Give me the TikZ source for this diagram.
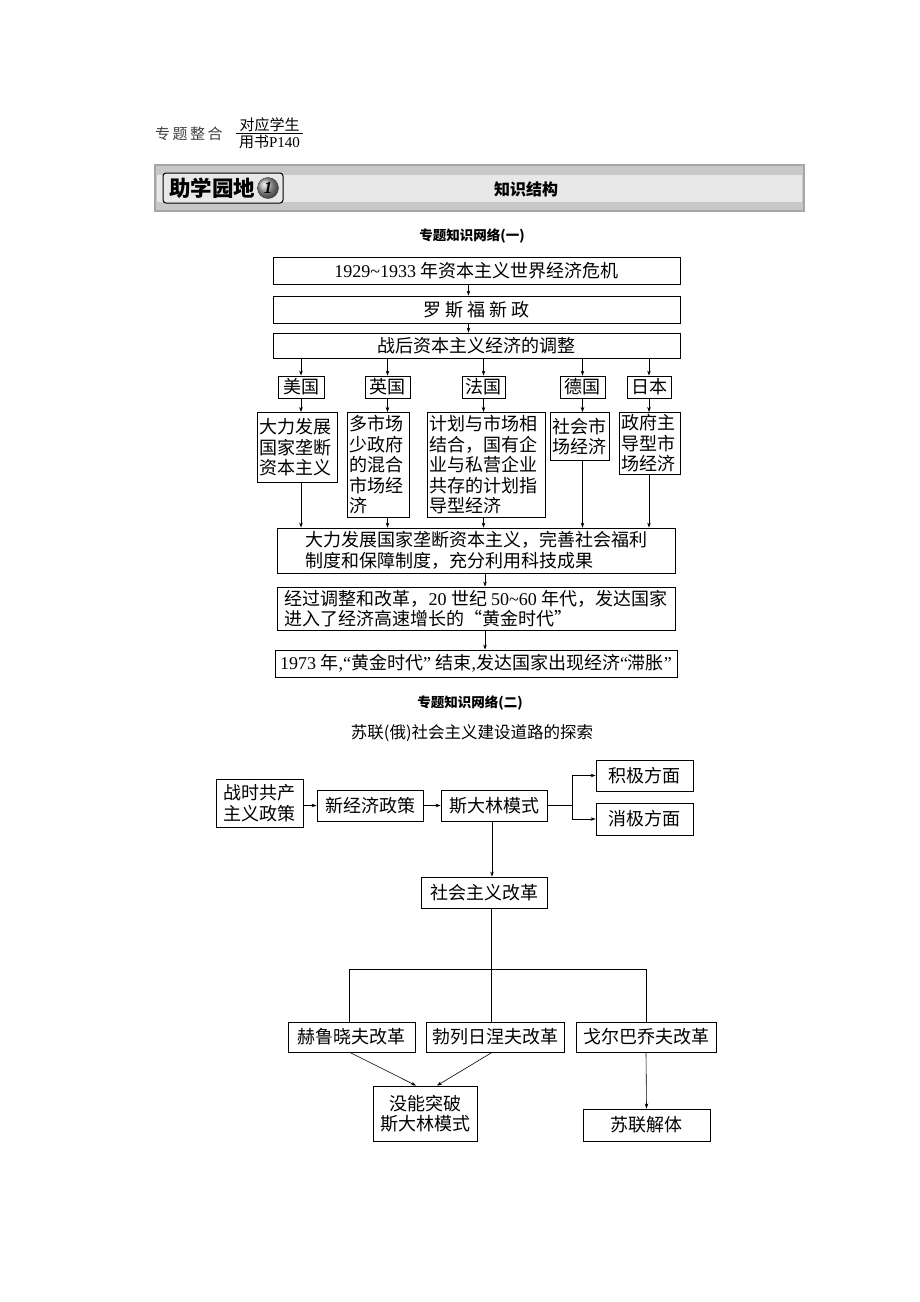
\documentclass[tikz,border=0pt]{standalone}
\usepackage{fontspec}
\setmainfont{Liberation Serif}
\newfontfamily\zh{Noto Sans CJK SC}
\newfontfamily\ltn{Liberation Serif}
\usetikzlibrary{arrows.meta,calc}
\definecolor{bnr}{RGB}{200,200,200}
\definecolor{bnl}{RGB}{232,232,232}
\newcommand\bxfont{\zh\fontsize{18}{20.5}\selectfont}

\begin{document}
\begin{tikzpicture}[x=1pt,y=-1pt,
    box/.style={draw,line width=0.9pt,inner sep=2pt,font=\bxfont},
    arr/.style={-{Stealth[length=5pt,width=3.6pt]},line width=0.6pt},
    ln/.style={line width=0.6pt}]
    \useasboundingbox (0,0) rectangle (920,1302);
    %
    % header
    \node[anchor=west,inner sep=0pt,text=black!75,font=\zh\fontsize{15}{16}\selectfont] (zt) at (155,134) {专\,题\,整\,合};
    \coordinate (fl) at (236,133);
    \coordinate (fr) at (303,133);
    \draw[line width=0.6pt] (fl) -- (fr);
    \node[anchor=south,inner sep=1.5pt,font=\zh\fontsize{15}{16}\selectfont] (dy) at ($(fl)!0.5!(fr)$) {对应学生};
    \node[anchor=north,inner sep=2pt,font=\zh\fontsize{15}{16}\selectfont] (ys) at ($(fl)!0.5!(fr)$) {用书{\ltn P140}};
    %
    \draw[line width=1.4pt,draw=gray!70,fill=bnr] (155,165) rectangle (804,211);
    \fill[bnl] (157,175) rectangle (802,202);
    \node[draw,rounded corners=3pt,line width=1pt,fill=bnl,minimum width=120pt,minimum height=30pt] (zx) at (223,188) {};
    \node[anchor=west,inner sep=0pt,font=\zh\bfseries\fontsize{21.5}{22}\selectfont] (zxt) at (169,188.5) {助学园地};
    \node[circle,draw=black!80,shading=ball,ball color=gray!70,minimum size=21pt,inner sep=0pt,
        font=\ltn\bfseries\itshape\fontsize{17}{17}\selectfont] (no) at (268,188) {1};
    \node[font=\zh\bfseries\fontsize{16}{17}\selectfont] (zs) at (526,189) {知识结构};
    %
    % network one
    \node[font=\zh\bfseries\fontsize{13.5}{15}\selectfont] (t1) at (472,236) {专题知识网络(一)};
    \node[box,minimum width=407pt,minimum height=27pt] (wj) at (476.5,271) {{\ltn 1929\textasciitilde1933 }年资本主义世界经济危机};
    \node[box,minimum width=407pt,minimum height=27pt] (xz) at (476.5,309.5) {罗 斯 福 新 政};
    \node[box,minimum width=407pt,minimum height=25pt] (tz) at (476.5,345.5) {战后资本主义经济的调整};
    \draw[arr] ([xshift=-8pt]wj.south) -- ([xshift=-8pt]xz.north);
    \draw[arr] ([xshift=-8pt]xz.south) -- ([xshift=-8pt]tz.north);
    %
    \node[box,minimum width=46pt,minimum height=22pt,inner sep=0pt] (mg) at (301,387) {美国};
    \node[box,minimum width=45pt,minimum height=22pt,inner sep=0pt] (yg) at (387.5,387) {英国};
    \node[box,minimum width=43pt,minimum height=22pt,inner sep=0pt] (fg) at (483.5,387) {法国};
    \node[box,minimum width=45pt,minimum height=22pt,inner sep=0pt] (dg) at (582.5,387) {德国};
    \node[box,minimum width=44pt,minimum height=22pt,inner sep=0pt] (rb) at (649,387) {日本};
    %
    \node[box,anchor=north,text width=76pt,align=left,minimum height=70pt] (mgd) at (297,412) {大力发展\\国家垄断\\资本主义};
    \node[box,anchor=north,text width=58pt,align=left,minimum height=105pt] (ygd) at (378,412) {多市场\\少政府\\的混合\\市场经\\济};
    \node[box,anchor=north,text width=114pt,align=left,minimum height=105pt] (fgd) at (486,412) {计划与市场相\\结合，国有企\\业与私营企业\\共存的计划指\\导型经济};
    \node[box,anchor=north,text width=55pt,align=left,minimum height=48pt] (dgd) at (579.5,412) {社会市\\场经济};
    \node[box,anchor=north,text width=57pt,align=left,minimum height=61pt] (rbd) at (649.5,412) {政府主\\导型市\\场经济};
    %
    \node[box,minimum width=398pt,minimum height=45pt,align=left] (fz) at (476,550.5) {大力发展国家垄断资本主义，完善社会福利\\制度和保障制度，充分利用科技成果};
    \node[box,minimum width=398pt,minimum height=43pt,align=left] (hj) at (476,608.5) {经过调整和改革，{\ltn 20 }世纪 {\ltn 50\textasciitilde60 }年代，发达国家\\进入了经济高速增长的“黄金时代”};
    \node[box,minimum width=402pt,minimum height=27pt] (zz) at (476,663.5) {{\ltn 1973 }年{\ltn ,“}黄金时代{\ltn ” }结束{\ltn ,}发达国家出现经济{\ltn “}滞胀{\ltn ”}};
    %
    \foreach \c in {mg,yg,fg,dg,rb} {
        \draw[arr] (tz.south -| \c) -- (\c.north);
        \draw[arr] (\c.south) -- (\c d.north -| \c);
        \draw[arr] (\c d.south -| \c) -- (fz.north -| \c);
    }
    \draw[arr] ([xshift=9pt]fz.south) -- ([xshift=9pt]hj.north);
    \draw[arr] ([xshift=9pt]hj.south) -- ([xshift=9pt]zz.north);
    %
    % network two
    \node[font=\zh\bfseries\fontsize{13.5}{15}\selectfont] (t2) at (470,703) {专题知识网络(二)};
    \node[font=\zh\fontsize{16.5}{18}\selectfont] (t3) at (472,733) {苏联(俄)社会主义建设道路的探索};
    %
    \node[box,minimum width=87pt,minimum height=48pt,align=left,inner sep=1pt] (zg) at (259.5,803) {战时共产\\主义政策};
    \node[box,minimum width=106pt,minimum height=31pt] (xj) at (370,805.5) {新经济政策};
    \node[box,minimum width=106pt,minimum height=31pt] (sd) at (494,805.5) {斯大林模式};
    \node[box,minimum width=97pt,minimum height=31pt] (jj) at (644.5,775.5) {积极方面};
    \node[box,minimum width=97pt,minimum height=32pt] (xjf) at (644.5,819) {消极方面};
    \coordinate (fd) at (572,805.5);
    \draw[arr] (zg.east |- xj.west) -- (xj.west);
    \draw[arr] (xj.east) -- (sd.west);
    \draw[ln] (sd.east) -- (fd);
    \draw[arr] (fd) |- (jj.west);
    \draw[arr] (fd) |- (xjf.west);
    %
    \node[box,minimum width=126pt,minimum height=31pt] (gg) at (484,892.5) {社会主义改革};
    \node[box,minimum width=127pt,minimum height=30pt,inner sep=0pt] (hl) at (351.5,1037) {赫鲁晓夫改革};
    \node[box,minimum width=138pt,minimum height=30pt,inner sep=0pt] (bl) at (495,1037) {勃列日涅夫改革};
    \node[box,minimum width=140pt,minimum height=30pt,inner sep=0pt] (ge) at (646,1037) {戈尔巴乔夫改革};
    \node[box,minimum width=104pt,minimum height=55pt,align=center] (mn) at (425,1113.5) {没能突破\\斯大林模式};
    \node[box,minimum width=127pt,minimum height=32pt] (jt) at (646.5,1125) {苏联解体};
    %
    \coordinate (sx) at (492,0);
    \coordinate (fc) at (491,969);
    \draw[arr] (sd.south -| sx) -- (gg.north -| sx);
    \draw[ln] (gg.south -| fc) -- (bl.north -| fc);
    \draw[ln] ([xshift=-2.5pt]hl.north) |- (ge.north |- fc) -- (ge.north);
    \draw[arr] ([xshift=-1.5pt]hl.south) -- ([xshift=-9pt]mn.north);
    \draw[arr] ([xshift=-3pt]bl.south) -- ([xshift=12pt]mn.north);
    \draw[arr] (ge.south) -- (jt.north);
    %
\end{tikzpicture}
\end{document}
